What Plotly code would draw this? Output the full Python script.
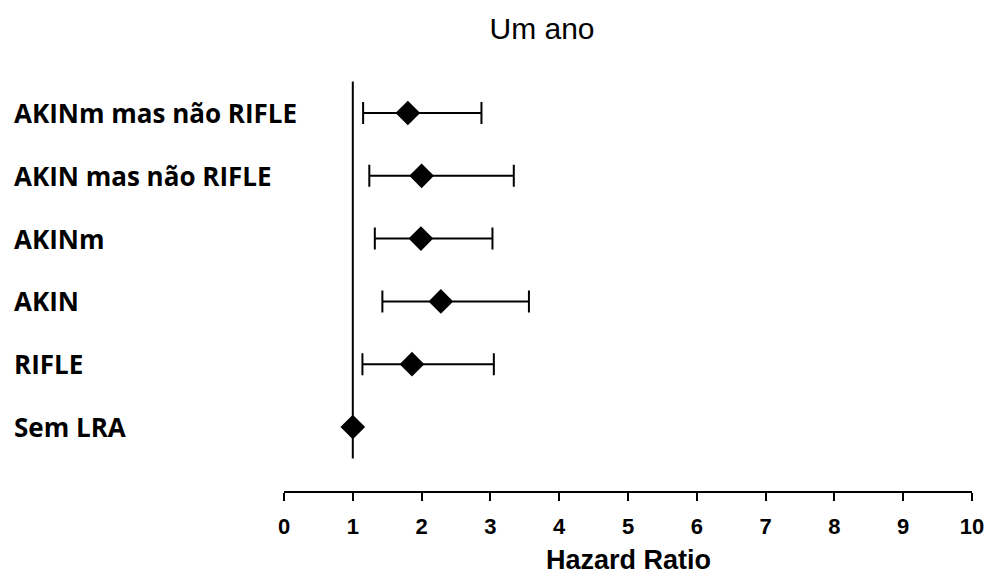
import plotly.graph_objects as go

categories = ["AKINm mas não RIFLE", "AKIN mas não RIFLE", "AKINm", "AKIN", "RIFLE", "Sem LRA"]
hazard_ratio = [1.80, 2.00, 1.99, 2.28, 1.86, 1.0]
ci_low = [1.15, 1.24, 1.32, 1.43, 1.14, None]
ci_high = [2.87, 3.34, 3.03, 3.56, 3.05, None]
x_ticks = list(range(0, 11))
ref_value = 1

W, H = 996, 576
ML, MR, MT, MB = 284, 17, 60, 85

rows = list(range(len(categories)))

fig = go.Figure()

# reference line at HR = 1
fig.add_trace(go.Scatter(
    x=[ref_value, ref_value], y=[-0.5, len(categories) - 0.5],
    mode="lines", line=dict(color="black", width=2),
    hoverinfo="skip", showlegend=False))

# confidence intervals
ci_idx = [i for i in rows if ci_low[i] is not None]
fig.add_trace(go.Scatter(
    x=[hazard_ratio[i] for i in ci_idx],
    y=[rows[i] for i in ci_idx],
    mode="markers", marker=dict(size=1, color="rgba(0,0,0,0)"),
    error_x=dict(type="data", symmetric=False,
                 array=[ci_high[i] - hazard_ratio[i] for i in ci_idx],
                 arrayminus=[hazard_ratio[i] - ci_low[i] for i in ci_idx],
                 color="black", thickness=2, width=11),
    showlegend=False, hoverinfo="skip"))

# point estimates
fig.add_trace(go.Scatter(
    x=hazard_ratio, y=rows, mode="markers",
    marker=dict(symbol="diamond", size=19, color="black", line=dict(width=0)),
    showlegend=False))

plot_w = W - ML - MR
for i, c in enumerate(categories):
    fig.add_annotation(
        x=(9 - ML) / plot_w, xref="paper", xanchor="left",
        y=rows[i], yref="y", yanchor="middle",
        text=c, showarrow=False,
        font=dict(family="Open Sans", size=26, color="black", weight="bold"))

fig.add_annotation(
    x=0.5, xref="paper", xanchor="center",
    y=(H - MB - 560) / (H - MT - MB), yref="paper", yanchor="middle",
    text="Hazard Ratio", showarrow=False,
    font=dict(family="Liberation Sans", size=27, color="black", weight="bold"))

fig.update_layout(
    width=W, height=H,
    margin=dict(l=ML, r=MR, t=MT, b=MB),
    plot_bgcolor="white", paper_bgcolor="white",
    title=dict(text="Um ano", x=542 / W, xanchor="center",
               y=1 - 28 / H, yanchor="middle",
               font=dict(family="Liberation Sans", size=30, color="black")),
    xaxis=dict(range=[0, 10], tickvals=x_ticks, ticktext=[str(t) for t in x_ticks],
               showline=True, linecolor="black", linewidth=2,
               ticks="outside", ticklen=8, tickwidth=2, tickcolor="black",
               ticklabelstandoff=7,
               showgrid=False, zeroline=False,
               tickfont=dict(family="Liberation Sans", size=22, color="black", weight="bold")),
    yaxis=dict(range=[(H - MB - 113) / 62.8, (MT - 113) / 62.8],
               visible=False, showgrid=False, zeroline=False),
)

fig.write_html("out.html")
